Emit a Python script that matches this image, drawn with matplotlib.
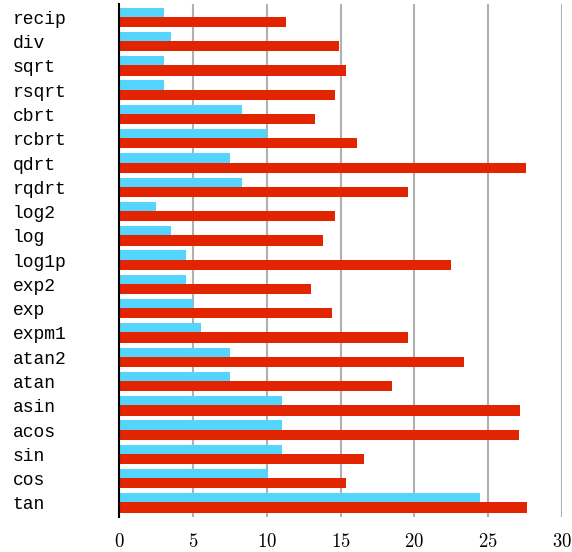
import numpy as np
import matplotlib
matplotlib.use("Agg")
import matplotlib.pyplot as plt

# functions, top to bottom
funcs = ["recip", "div", "sqrt", "rsqrt", "cbrt", "rcbrt", "qdrt", "rqdrt",
         "log2", "log", "log1p", "exp2", "exp", "expm1", "atan2", "atan",
         "asin", "acos", "sin", "cos", "tan"]
fast = [3.0, 3.5, 3.0, 3.0, 8.3, 10.0, 7.5, 8.3,
        2.5, 3.5, 4.5, 4.5, 5.0, 5.5, 7.5, 7.5,
        11.0, 11.0, 11.0, 10.05, 24.5]
slow = [11.3, 14.9, 15.4, 14.6, 13.3, 16.1, 27.6, 19.6,
        14.6, 13.8, 22.5, 13.0, 14.4, 19.55, 23.4, 18.5,
        27.2, 27.1, 16.6, 15.35, 27.65]
xticks = [0, 5, 10, 15, 20, 25, 30]

plt.rcParams["mathtext.fontset"] = "cm"

fig = plt.figure(figsize=(5.72, 5.52), dpi=100)
ax = fig.add_axes([0.2089, 0.0634, 0.7728, 0.9294])

y = np.arange(len(funcs))
h = 0.42
off = 0.19
ax.barh(y - off, fast, height=h, color="#55d5fd", zorder=2)
ax.barh(y + off, slow, height=h, color="#e22400", zorder=3)

ax.set_xlim(0, 30)
ax.set_ylim(len(funcs) - 0.42, -0.55)
ax.set_xticks(xticks)
ax.set_xticklabels([f"${t}$" for t in xticks], fontsize=13.5)
ax.set_yticks(y)
ax.set_yticklabels(funcs, fontsize=13, family="Liberation Mono", ha="left")
ax.tick_params(axis="y", length=0, pad=77)
ax.tick_params(axis="x", length=0, pad=11)

ax.grid(axis="x", color="#b0b0b0", linewidth=1.5, zorder=1)
ax.set_axisbelow(True)
for side in ["top", "right", "bottom"]:
    ax.spines[side].set_visible(False)
ax.spines["left"].set_linewidth(1.5)
ax.spines["left"].set_zorder(4)

fig.savefig("out.png", dpi=100)
